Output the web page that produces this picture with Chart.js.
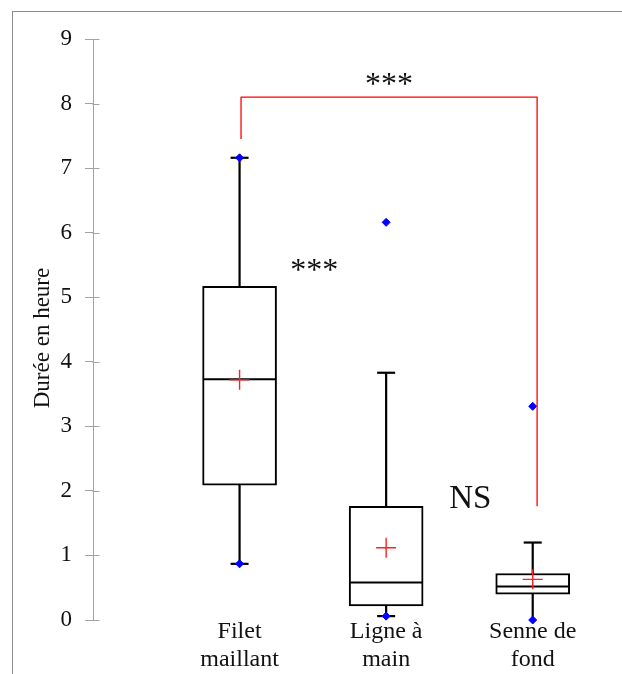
<!DOCTYPE html>
<html><head><meta charset="utf-8">
<script src="https://cdn.jsdelivr.net/npm/chart.js@4"></script>
<style>
html,body{margin:0;padding:0;background:#fff;overflow:hidden;}
#wrap{position:relative;width:622px;height:674px;}
#frame{position:absolute;left:12px;top:11px;width:800px;height:800px;border-left:1px solid #8c8c8c;border-top:1px solid #8c8c8c;}
canvas{position:absolute;left:0;top:0;}
</style></head><body>
<div id="wrap"><div id="frame"></div><canvas id="c" width="622" height="674"></canvas></div>
<script>
// ---- data ----
const categories = [['Filet', 'maillant'], ['Ligne à', 'main'], ['Senne de', 'fond']];
const q1 = [2.09, 0.22, 0.40];
const median = [3.73, 0.58, 0.52];
const q3 = [5.17, 1.76, 0.72];
const mean = [3.72, 1.12, 0.63];
const whiskerLow = [0.87, 0.06, 0.00];
const whiskerHigh = [7.16, 3.83, 1.20];
const lowCapShown = [true, true, false];
const minimum = [0.87, 0.06, 0.00];
const maximum = [7.16, 6.16, 3.31];
const yTicks = [0, 1, 2, 3, 4, 5, 6, 7, 8, 9];
const yTitle = 'Durée en heure';
const bracketX = [1.01, 1.01, 3.03, 3.03];
const bracketY = [7.45, 8.10, 8.10, 1.77];
const annotationText = ['***', '***', 'NS'];
const annotationX = [2.02, 1.51, 2.57];
const annotationY = [8.38, 5.50, 1.91];

// ---- styles ----
const SERIF = '"Liberation Serif", "Times New Roman", serif';
const axisColor = '#a3a3a3';
const annotationFont = ['32px ' + SERIF, '32px ' + SERIF, '33px ' + SERIF];
const titleFont = '23px ' + SERIF;
const titleCenter = {x: 43, y: 338};

const pos = (i) => i + 1;
const whiskerData = [];
categories.forEach((c, i) => {
  whiskerData.push({x: pos(i), y: whiskerLow[i]}, {x: pos(i), y: whiskerHigh[i]}, {x: pos(i), y: null});
});
const capData = [];
categories.forEach((c, i) => {
  capData.push({x: pos(i), y: whiskerHigh[i]});
  if (lowCapShown[i]) capData.push({x: pos(i), y: whiskerLow[i]});
});
const extremeData = [];
categories.forEach((c, i) => {
  extremeData.push({x: pos(i), y: minimum[i]}, {x: pos(i), y: maximum[i]});
});

const overlay = {
  id: 'overlay',
  beforeDatasetsDraw(chart) {
    const {ctx, scales: {x, y}} = chart;
    ctx.save();
    ctx.strokeStyle = axisColor; ctx.lineWidth = 1;
    y.ticks.forEach(t => {
      const py = Math.round(y.getPixelForValue(t.value)) + 0.5;
      const px = Math.round(x.left) - 0.5;
      ctx.beginPath(); ctx.moveTo(px, py); ctx.lineTo(px + 7, py); ctx.stroke();
    });
    ctx.restore();
  },
  afterDatasetsDraw(chart) {
    const {ctx, scales: {x, y}} = chart;
    ctx.save();
    ctx.fillStyle = '#111';
    ctx.textAlign = 'left';
    ctx.textBaseline = 'alphabetic';
    annotationText.forEach((t, i) => {
      ctx.font = annotationFont[i];
      const m = ctx.measureText(t);
      const cx = x.getPixelForValue(annotationX[i]);
      const cy = y.getPixelForValue(annotationY[i]);
      const w = m.actualBoundingBoxLeft + m.actualBoundingBoxRight;
      const bx = cx - w / 2 + m.actualBoundingBoxLeft;
      const by = cy + (m.actualBoundingBoxAscent - m.actualBoundingBoxDescent) / 2;
      ctx.fillText(t, bx, by);
    });
    // y axis title
    ctx.translate(titleCenter.x, titleCenter.y);
    ctx.rotate(-Math.PI / 2);
    ctx.font = titleFont;
    ctx.textAlign = 'center';
    ctx.textBaseline = 'middle';
    ctx.fillText(yTitle, 0, 0);
    ctx.restore();
  }
};

new Chart(document.getElementById('c'), {
  data: {
    datasets: [
      { type: 'line', data: bracketX.map((v, i) => ({x: v, y: bracketY[i]})), borderColor: '#ff0000', borderWidth: 1.3,
        pointRadius: 0, fill: false, borderJoinStyle: 'round', order: 0, clip: false },
      { type: 'scatter', data: extremeData, pointStyle: 'rectRot', pointRadius: 4, backgroundColor: '#0000ff',
        borderColor: '#0000ff', borderWidth: 1, order: 1, clip: false },
      { type: 'scatter', data: mean.map((v, i) => ({x: pos(i), y: v})), pointStyle: 'cross', pointRadius: 10,
        borderColor: '#ff2020', borderWidth: 1.4, order: 2, clip: false },
      { type: 'scatter', data: median.map((v, i) => ({x: pos(i), y: v})), pointStyle: 'line', pointRadius: 36.5,
        borderColor: '#000', borderWidth: 2, order: 3, clip: false },
      { type: 'scatter', data: capData, pointStyle: 'line', pointRadius: 9,
        borderColor: '#000', borderWidth: 2.2, order: 3, clip: false },
      { type: 'bar', data: q1.map((v, i) => ({x: pos(i), y: [v, q3[i]]})), backgroundColor: '#fff',
        borderColor: '#000', borderWidth: 2, borderSkipped: false, barThickness: 74, grouped: false, order: 4 },
      { type: 'line', data: whiskerData, borderColor: '#000', borderWidth: 2.2, pointRadius: 0, spanGaps: false,
        fill: false, order: 5, clip: false }
    ]
  },
  options: {
    responsive: false,
    animation: false,
    events: [],
    layout: { autoPadding: false, padding: { top: 39, right: 16, left: 0, bottom: 0 } },
    plugins: { legend: { display: false }, tooltip: { enabled: false } },
    scales: {
      x: {
        type: 'linear', min: 0, max: 3.5, offset: false,
        grid: { display: false, drawTicks: false, offset: false },
        border: { display: false },
        ticks: {
          stepSize: 1, includeBounds: false, autoSkip: false, maxRotation: 0, padding: -2,
          color: '#111', font: { family: SERIF, size: 24, lineHeight: 1.17 },
          callback: (v) => {
            const i = Math.round(v) - 1;
            return (Number.isInteger(v) && i >= 0 && i < categories.length) ? categories[i] : '';
          }
        },
        afterFit: (s) => { s.height = 54; s.paddingLeft = 0; s.paddingRight = 0; }
      },
      y: {
        type: 'linear', min: yTicks[0], max: yTicks[yTicks.length - 1],
        afterBuildTicks: (s) => { s.ticks = yTicks.map(v => ({value: v})); },
        grid: { drawOnChartArea: false, drawTicks: true, tickLength: 8, color: axisColor, lineWidth: 1 },
        border: { display: true, color: axisColor, width: 1 },
        ticks: { padding: 13, color: '#111', font: { family: SERIF, size: 23 } },
        title: { display: false },
        afterFit: (s) => { s.width = 93; }
      }
    }
  },
  plugins: [overlay]
});
</script>
</body></html>
